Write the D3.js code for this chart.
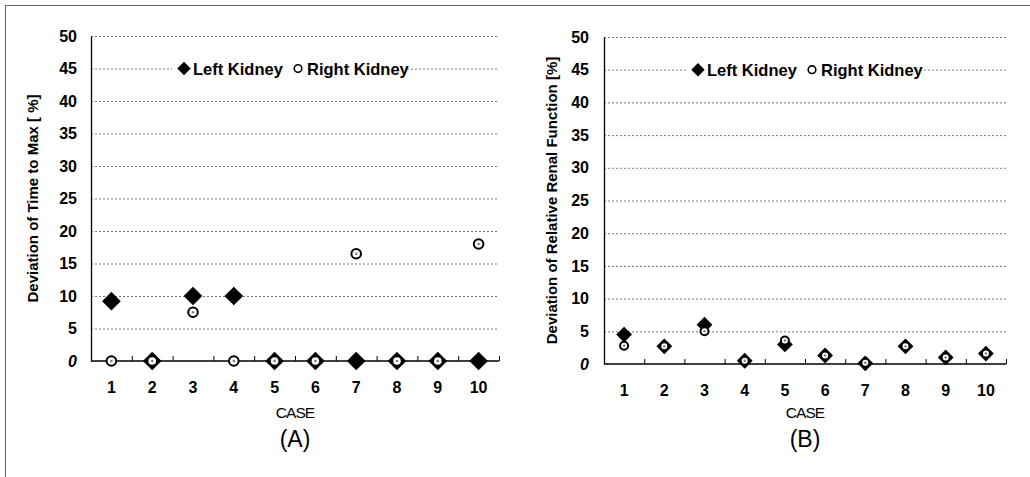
<!DOCTYPE html>
<html><head><meta charset="utf-8">
<script src="https://cdn.jsdelivr.net/npm/d3@7"></script>
<style>
body{margin:0;background:#fff;}
svg{display:block;}
text{font-family:"Liberation Sans",Arial,sans-serif;}
</style></head>
<body>
<svg id="c" width="1030" height="477"></svg>
<script>
const cases = [1,2,3,4,5,6,7,8,9,10];
const yTicks = [0,5,10,15,20,25,30,35,40,45,50];
const leftA  = [9.2,0,10,10,0,0,0,0,0,0];
const rightA = [0,0,7.5,0,0,0,16.5,0,0,18];
const leftB  = [4.5,2.7,6.0,0.5,3.0,1.3,0.1,2.7,1.0,1.6];
const rightB = [2.8,2.7,5.0,0.5,3.6,1.3,0.2,2.7,1.0,1.6];
const legendLabels = ["Left Kidney","Right Kidney"];

const svg = d3.select("#c");
// frame
svg.append("line").attr("x1",5).attr("x2",1030).attr("y1",5.5).attr("y2",5.5).attr("stroke","#666").attr("stroke-width",1);
svg.append("line").attr("x1",5.5).attr("x2",5.5).attr("y1",5).attr("y2",477).attr("stroke","#666").attr("stroke-width",1);

function panel(cfg){
  const x = d3.scaleBand().domain(cases).range([cfg.x0,cfg.x1]);
  const xb = d3.scaleLinear().domain([0,10]).range([cfg.x0,cfg.x1]);
  const y = d3.scaleLinear().domain([0,50]).range([cfg.yb,cfg.yt]);
  const g = svg.append("g");
  // grid
  g.append("g").attr("transform",`translate(${cfg.x0},0)`)
    .call(d3.axisLeft(y).tickValues(yTicks.slice(1)).tickSize(-(cfg.x1-cfg.x0)).tickFormat(""))
    .call(s=>s.select(".domain").remove())
    .call(s=>s.selectAll("line").attr("stroke","#555").attr("stroke-width",0.8).attr("stroke-dasharray","2,2"));
  // y labels
  g.append("g").attr("transform",`translate(${cfg.x0},0)`)
    .call(d3.axisLeft(y).tickValues(yTicks).tickSize(0).tickPadding(cfg.ypad))
    .call(s=>s.select(".domain").attr("stroke","#000").attr("stroke-width",1.3))
    .call(s=>s.selectAll("text").attr("font-size",16).attr("font-weight","bold").attr("fill","#000")
      .attr("font-family","Liberation Sans, Arial, sans-serif").attr("font-style",d=>d===0?"italic":"normal"));
  // x axis line & boundary ticks
  g.append("g").attr("transform",`translate(0,${cfg.yb})`)
    .call(d3.axisBottom(xb).tickValues(d3.range(1,11)).tickSize(-5).tickFormat(""))
    .call(s=>s.select(".domain").attr("stroke","#000").attr("stroke-width",1.3).attr("d",`M${cfg.x0},0H${cfg.x1}`))
    .call(s=>s.selectAll("line").attr("stroke","#000").attr("stroke-width",1));
  // x labels
  g.append("g").attr("transform",`translate(0,${cfg.yb})`)
    .call(d3.axisBottom(x).tickSize(0).tickPadding(cfg.xpad))
    .call(s=>s.select(".domain").remove())
    .call(s=>s.selectAll("text").attr("font-size",16).attr("font-weight","bold").attr("fill","#000")
      .attr("font-family","Liberation Sans, Arial, sans-serif"));
  // titles
  g.append("text").attr("x",(cfg.x0+cfg.x1)/2).attr("y",cfg.caseY).attr("text-anchor","middle")
    .attr("font-size",15.5).attr("letter-spacing",-0.9).text("CASE");
  g.append("text").attr("x",(cfg.x0+cfg.x1)/2).attr("y",cfg.labY).attr("text-anchor","middle")
    .attr("font-size",23).text(cfg.lab);
  g.append("text").attr("transform",`translate(${cfg.ytX},${(cfg.yt+cfg.yb)/2}) rotate(-90)`)
    .attr("text-anchor","middle").attr("font-size",cfg.ytSize).attr("font-weight","bold").text(cfg.ytitle);
  // legend
  const ly = y(45);
  g.append("rect").attr("x",cfg.legX-12).attr("y",ly-9).attr("width",cfg.legW).attr("height",18).attr("fill","#fff");
  g.append("path").attr("d",d3.symbol(d3.symbolSquare,90)()).attr("transform",`translate(${cfg.legX},${ly}) rotate(45)`).attr("fill","#000");
  g.append("text").attr("x",cfg.legX+9).attr("y",ly+6).attr("font-size",16.5).attr("font-weight","bold").text(legendLabels[0]);
  g.append("circle").attr("cx",cfg.legX2).attr("cy",ly).attr("r",3.8).attr("fill","#fff").attr("stroke","#000").attr("stroke-width",1.6);
  g.append("text").attr("x",cfg.legX2+9).attr("y",ly+6).attr("font-size",16.5).attr("font-weight","bold").text(legendLabels[1]);
  // marks
  const cx = d => x(d) + x.bandwidth()/2;
  g.selectAll("path.l").data(cases).join("path").attr("class","l")
    .attr("d",d3.symbol(d3.symbolSquare,cfg.dArea)())
    .attr("transform",(d,i)=>`translate(${cx(d)},${y(cfg.left[i])}) rotate(45)`).attr("fill","#000");
  g.selectAll("circle.r").data(cases).join("circle").attr("class","r")
    .attr("cx",d=>cx(d)).attr("cy",(d,i)=>y(cfg.right[i])).attr("r",cfg.cr)
    .attr("fill","#fff").attr("stroke","#000").attr("stroke-width",2);
  g.selectAll("circle.rd").data(cases).join("circle").attr("class","rd")
    .attr("cx",d=>cx(d)).attr("cy",(d,i)=>y(cfg.right[i])).attr("r",1.2)
    .attr("fill","#777");
}

panel({x0:91,x1:499,yt:36,yb:361,left:leftA,right:rightA,ypad:14,xpad:21,caseY:418,labY:447,lab:"(A)",
  ytX:38,ytSize:15,ytitle:"Deviation of Time to Max  [ %]",legX:184,legX2:298,legW:234,dArea:175,cr:4.8});
panel({x0:604,x1:1006,yt:37,yb:364,left:leftB,right:rightB,ypad:15,xpad:21,caseY:418,labY:447,lab:"(B)",
  ytX:557,ytSize:15,ytitle:"Deviation of Relative Renal Function [%]",legX:698,legX2:812,legW:228,dArea:125,cr:4});
</script>
</body></html>
